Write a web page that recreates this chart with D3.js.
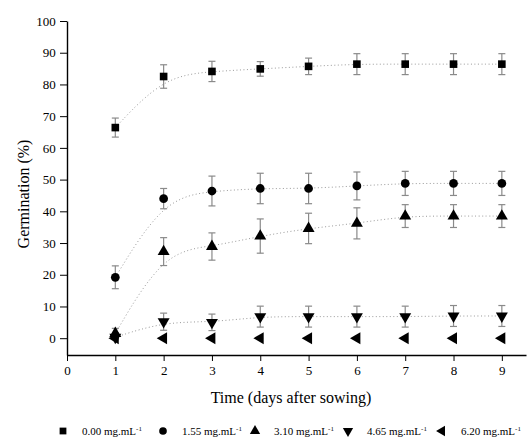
<!DOCTYPE html>
<html>
<head>
<meta charset="utf-8">
<script src="https://cdn.jsdelivr.net/npm/d3@7"></script>
<style>
  body { margin: 0; background: #fff; }
</style>
</head>
<body>
<div id="chart"></div>
<script>
// Germination over time for five extract concentrations

const days = [1, 2, 3, 4, 5, 6, 7, 8, 9];
const labels = ["0.00", "1.55", "3.10", "4.65", "6.20"];

// means (%)
const g000 = [66.4, 82.5, 84.1, 84.9, 85.7, 86.4, 86.4, 86.4, 86.4];
const g155 = [19.2, 44.0, 46.4, 47.2, 47.2, 48.0, 48.8, 48.8, 48.8];
const g310 = [1.5, 27.3, 28.9, 32.2, 34.6, 36.2, 38.5, 38.5, 38.5];
const g465 = [0.3, 5.2, 5.0, 6.8, 6.8, 6.8, 6.8, 7.0, 7.0];
const g620 = [0, 0, 0, 0, 0, 0, 0, 0, 0];

// error bars (+/-)
const e000 = [3.0, 3.7, 3.2, 2.3, 2.6, 3.3, 3.3, 3.3, 3.3];
const e155 = [3.6, 3.2, 4.7, 4.8, 4.8, 4.4, 3.8, 3.8, 3.8];
const e310 = [1.6, 4.4, 4.3, 5.4, 4.8, 4.9, 3.6, 3.6, 3.6];
const e465 = [0.8, 2.7, 2.6, 3.3, 3.3, 3.3, 3.3, 3.3, 3.3];
const e620 = [0, 0, 0, 0, 0, 0, 0, 0, 0];

const means = [g000, g155, g310, g465, g620];
const errs = [e000, e155, e310, e465, e620];

const serif = '"Liberation Serif", "Times New Roman", "DejaVu Serif", serif';

const width = 532, height = 437;
const margin = {top: 21, right: 6, bottom: 82, left: 67};

const svg = d3.select("#chart").append("svg")
    .attr("width", width)
    .attr("height", height)
    .attr("font-family", serif);

const x = d3.scaleLinear()
    .domain([0, 9.5])
    .range([margin.left, width - margin.right]);

const y = d3.scaleLinear()
    .domain([-5.3, 100])
    .range([height - margin.bottom, margin.top]);

// symbols: square, circle, up, down, left
const shapes = [
  {type: d3.symbolSquare, size: 58, rot: 0},
  {type: d3.symbolCircle, size: 60, rot: 0},
  {type: d3.symbolTriangle, size: 62, rot: 0},
  {type: d3.symbolTriangle, size: 62, rot: 180},
  {type: d3.symbolTriangle, size: 62, rot: -90}
];

// axes
svg.append("g")
    .attr("transform", `translate(0,${height - margin.bottom})`)
    .call(d3.axisBottom(x).tickValues(d3.range(0, 10)).tickSize(6).tickSizeOuter(0))
    .attr("font-family", serif)
    .call(g => g.select(".domain").attr("stroke-width", 1.4))
    .call(g => g.selectAll("text").attr("font-size", 13).attr("dy", "0.85em"));

svg.append("g")
    .attr("transform", `translate(${margin.left},0)`)
    .call(d3.axisLeft(y).tickValues(d3.range(0, 101, 10)).tickSize(7).tickSizeOuter(0))
    .attr("font-family", serif)
    .call(g => g.select(".domain").attr("stroke-width", 1.4))
    .call(g => g.selectAll("text").attr("font-size", 13).attr("dx", "-0.1em"));

// axis titles
svg.append("text")
    .attr("x", 291)
    .attr("y", 403)
    .attr("text-anchor", "middle")
    .attr("font-size", 16)
    .text("Time (days after sowing)");

svg.append("text")
    .attr("transform", `translate(29,194) rotate(-90)`)
    .attr("text-anchor", "middle")
    .attr("font-size", 16)
    .text("Germination (%)");

// dotted curves (not for the all-zero series)
const line = d3.line()
    .x((d, i) => x(days[i]))
    .y(d => y(d))
    .curve(d3.curveBasis);

means.slice(0, 4).forEach(m => {
  svg.append("path")
      .attr("d", line(m))
      .attr("fill", "none")
      .attr("stroke", "#9a9a9a")
      .attr("stroke-width", 1)
      .attr("stroke-dasharray", "1,2.5");
});

// error bars
means.forEach((m, s) => {
  const g = svg.append("g").attr("stroke", "#8a8a8a").attr("stroke-width", 1.2);
  m.forEach((v, i) => {
    const e = errs[s][i];
    if (e <= 0) return;
    const cx = x(days[i]);
    g.append("line").attr("x1", cx).attr("x2", cx).attr("y1", y(v - e)).attr("y2", y(v + e));
    g.append("line").attr("x1", cx - 3.5).attr("x2", cx + 3.5).attr("y1", y(v - e)).attr("y2", y(v - e));
    g.append("line").attr("x1", cx - 3.5).attr("x2", cx + 3.5).attr("y1", y(v + e)).attr("y2", y(v + e));
  });
});

// markers
means.forEach((m, s) => {
  const sh = shapes[s];
  svg.append("g").selectAll("path")
      .data(m)
      .join("path")
      .attr("d", d3.symbol().type(sh.type).size(sh.size))
      .attr("transform", (d, i) => `translate(${x(days[i])},${y(d)}) rotate(${sh.rot})`)
      .attr("fill", "#000");
});

// legend
const legX = [63, 163, 255, 348, 442];
const leg = svg.append("g").attr("transform", "translate(0,431)");
labels.forEach((lab, s) => {
  const sh = shapes[s];
  leg.append("path")
      .attr("d", d3.symbol().type(sh.type).size(46))
      .attr("transform", `translate(${legX[s]},0) rotate(${sh.rot})`)
      .attr("fill", "#000");
  const t = leg.append("text")
      .attr("x", legX[s] + 19)
      .attr("y", 3.5)
      .attr("font-size", 11);
  t.append("tspan").text(lab + " mg.mL");
  t.append("tspan").attr("dy", -4).attr("font-size", 7).text("-1");
});
</script>
</body>
</html>
